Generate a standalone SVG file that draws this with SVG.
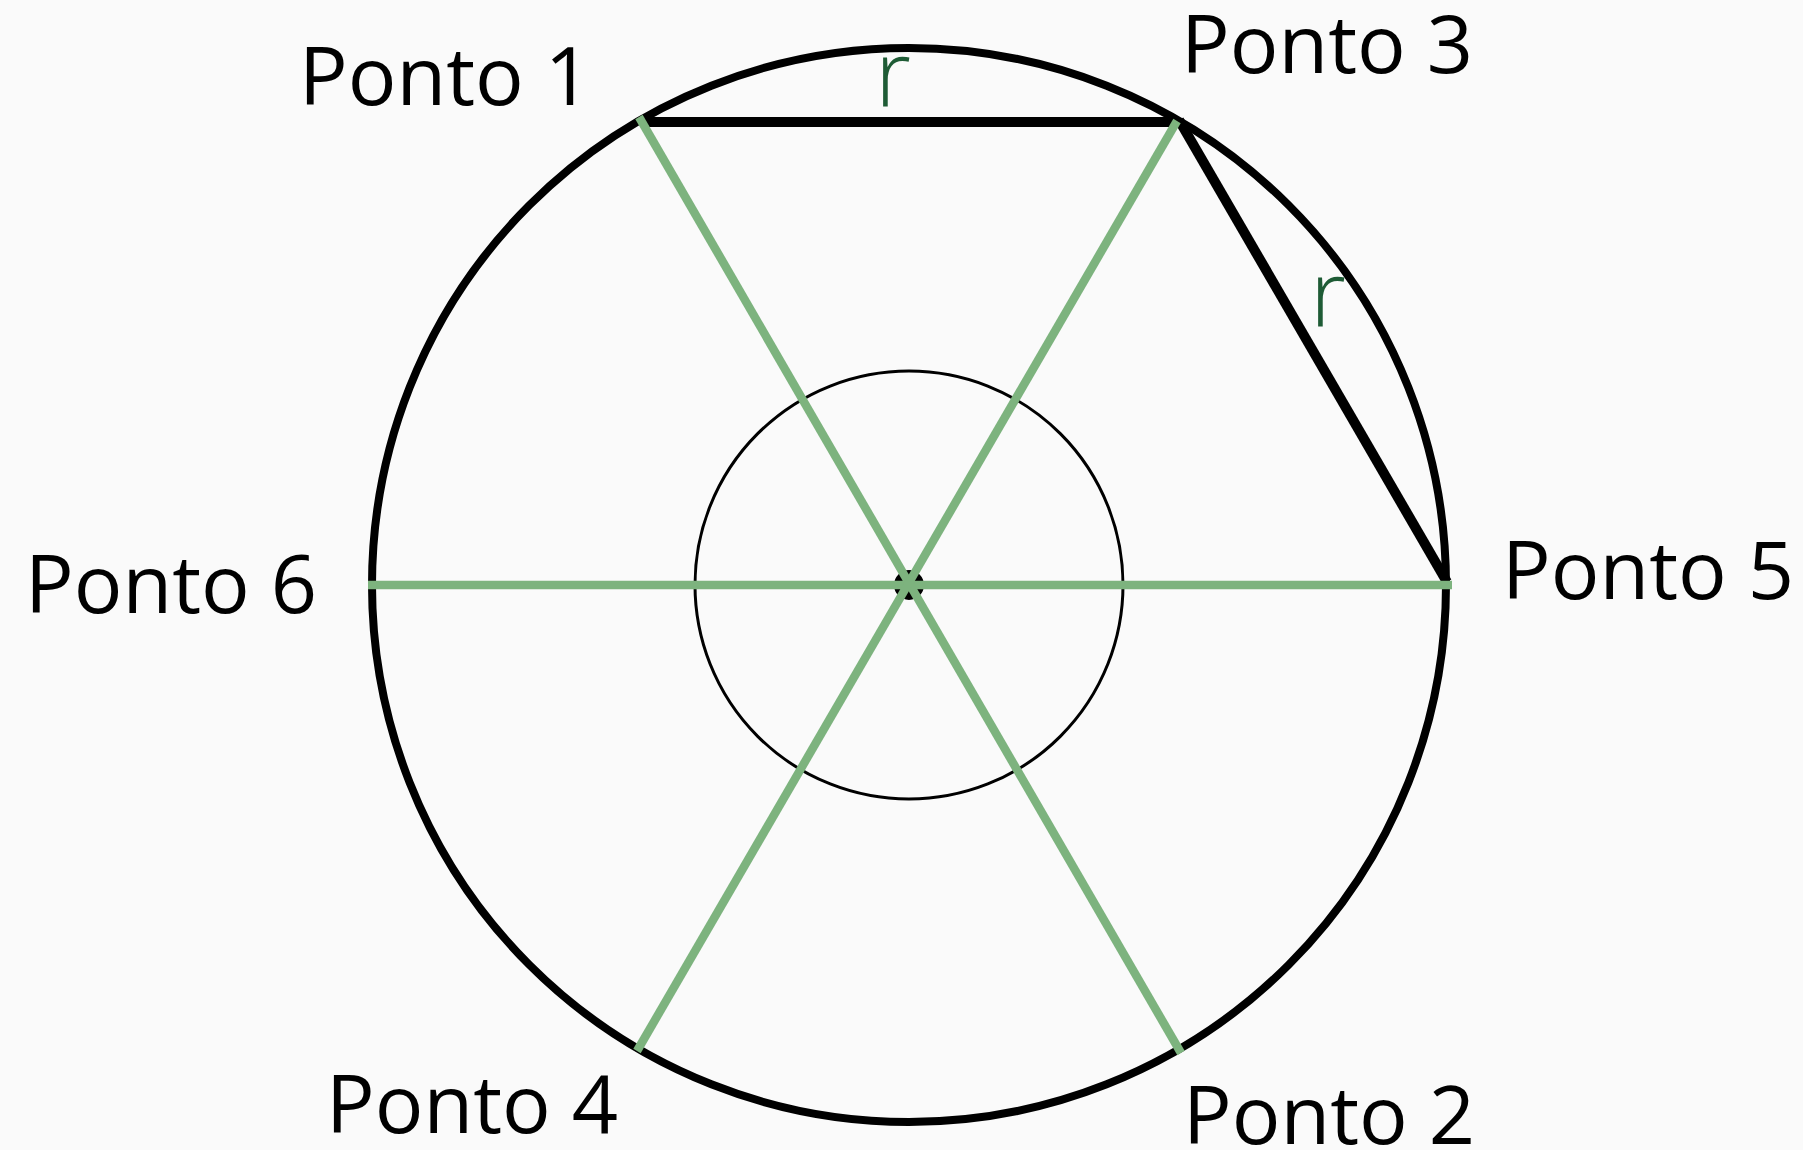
<svg xmlns="http://www.w3.org/2000/svg" width="1803" height="1150" viewBox="0 0 1803 1150">
<style>
.lbl{font-family:"Open Sans","Noto Sans",sans-serif;font-size:81px;fill:#000}
.r{font-family:"Open Sans","Noto Sans",sans-serif;font-size:92px;font-weight:300;fill:#1e5b35}
.green{stroke:#7db37e;stroke-width:8.5;fill:none}
.blk{stroke:#000;stroke-width:10;fill:none}
</style>
<rect width="1803" height="1150" fill="#fafafa"/>
<g id="outer-circle"><circle cx="909" cy="585" r="537" fill="none" stroke="#000" stroke-width="8"/></g>
<g id="inner-circle"><circle cx="909" cy="585" r="214" fill="none" stroke="#000" stroke-width="3"/></g>
<g id="center"><circle cx="909" cy="585" r="15" fill="#000"/></g>
<g id="connectors">
<line class="blk" x1="640" y1="122" x2="1179" y2="122"/>
<line class="blk" x1="1179" y1="120" x2="1447" y2="582"/>
<line class="green" x1="368" y1="585" x2="1452" y2="585"/>
<line class="green" x1="639" y1="117" x2="1181" y2="1053"/>
<line class="green" x1="1177" y1="121" x2="637" y2="1051"/>
</g>
<g id="ponto1"><text class="lbl" x="299" y="105">Ponto 1</text></g>
<g id="ponto3"><text class="lbl" x="1181" y="73">Ponto 3</text></g>
<g id="ponto6"><text class="lbl" x="25" y="613">Ponto 6</text></g>
<g id="ponto5"><text class="lbl" x="1502" y="599">Ponto 5</text></g>
<g id="ponto4"><text class="lbl" x="326" y="1133">Ponto 4</text></g>
<g id="ponto2"><text class="lbl" x="1183" y="1144">Ponto 2</text></g>
<g id="r1"><text class="r" x="875" y="107">r</text></g>
<g id="r2"><text class="r" x="1310" y="327">r</text></g>
</svg>
